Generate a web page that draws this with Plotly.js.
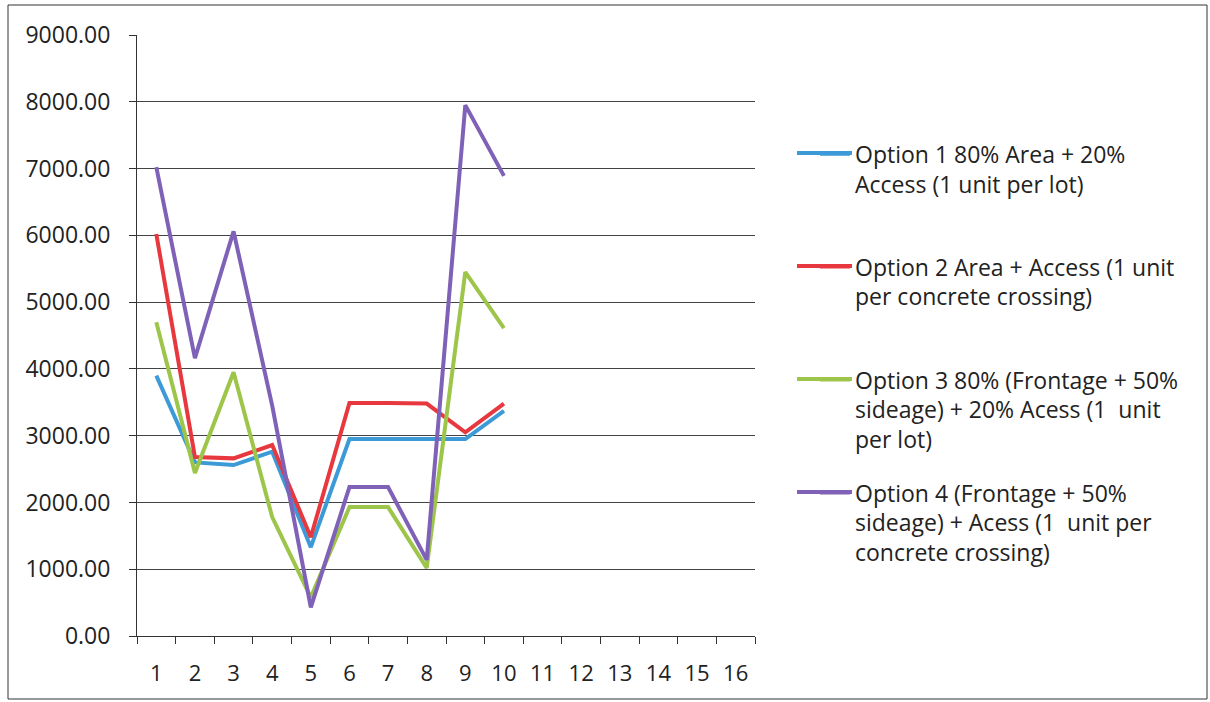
<!DOCTYPE html>
<html>
<head>
<meta charset="utf-8">
<script src="https://cdn.plot.ly/plotly-3.0.1.min.js"></script>
<style>html,body{margin:0;padding:0;background:#fff;}#chart{width:1210px;height:702px;}</style>
</head>
<body>
<div id="chart"></div>
<script>
const categories = ["1","2","3","4","5","6","7","8","9","10","11","12","13","14","15","16"];
const dataX = ["1","2","3","4","5","6","7","8","9","10"];
const option1 = [3900, 2600, 2560, 2760, 1330, 2950, 2950, 2950, 2950, 3370];
const option2 = [6020, 2680, 2660, 2860, 1480, 3490, 3490, 3480, 3050, 3480];
const option3 = [4700, 2440, 3950, 1780, 580, 1930, 1930, 1020, 5450, 4610];
const option4 = [7020, 4160, 6060, 3450, 430, 2230, 2230, 1140, 7950, 6890];
const seriesNames = [
  "Option 1 80% Area + 20%<br>Access (1 unit per lot)",
  "Option 2 Area + Access (1 unit<br>per concrete crossing)",
  "Option 3 80% (Frontage + 50%<br>sideage) + 20% Acess (1  unit<br>per lot)",
  "Option 4 (Frontage + 50%<br>sideage) + Acess (1  unit per<br>concrete crossing)"
];
const colors = ["#3d9ad8", "#e8383f", "#9dc54a", "#7f62b8"];
const allSeries = [option1, option2, option3, option4];
const legendIds = ["legend", "legend2", "legend3", "legend4"];

const traces = allSeries.map((ys, i) => ({
  type: "scatter", mode: "lines", x: dataX, y: ys, name: seriesNames[i],
  line: {color: colors[i], width: 4}, legend: legendIds[i], showlegend: true
}));

const font = {family: "Open Sans, Lato, sans-serif", size: 23, color: "#222"};
const legendY = [0.8383, 0.6503, 0.4623, 0.2743];
const swatchY = [0.8036, 0.6156, 0.4276, 0.2396];
const shapes = [{
  type: "rect", xref: "paper", yref: "paper",
  x0: (8 - 137) / 618, x1: (1207 - 137) / 618,
  y0: (636 - 699) / 601, y1: (636 - 5) / 601,
  line: {color: "#333", width: 1}, fillcolor: "rgba(0,0,0,0)"
}];
swatchY.forEach((y, i) => shapes.push({
  type: "line", xref: "paper", yref: "paper",
  x0: (797 - 137) / 618, x1: (852 - 137) / 618, y0: y, y1: y,
  line: {color: colors[i], width: 4}
}));
const layout = {
  width: 1210, height: 702,
  margin: {l: 137, r: 455, t: 35, b: 66},
  paper_bgcolor: "#fff", plot_bgcolor: "#fff",
  font: font,
  showlegend: true,
  xaxis: {
    type: "category", categoryorder: "array", categoryarray: categories,
    range: [-0.5, 15.5], showgrid: false, showline: true, linecolor: "#333", linewidth: 1,
    ticks: "outside", tickson: "boundaries", ticklen: 7, tickcolor: "#333",
    tickfont: Object.assign({}, font, {size: 22}), zeroline: false, ticklabelstandoff: 18
  },
  yaxis: {
    range: [0, 9000], dtick: 1000, tickformat: ".2f",
    showgrid: true, gridcolor: "#444", gridwidth: 1,
    showline: true, linecolor: "#333", linewidth: 1,
    ticks: "outside", ticklen: 7, tickcolor: "#333", tickfont: font,
    zeroline: false, ticklabelstandoff: 14
  },
  shapes: shapes
};
legendIds.forEach((id, i) => {
  layout[id] = {
    x: (815 - 137) / 618, y: legendY[i], xanchor: "left", yanchor: "top",
    valign: "top", font: font, bgcolor: "rgba(0,0,0,0)", itemwidth: 30
  };
});
Plotly.newPlot("chart", traces, layout, {displayModeBar: false});
</script>
</body>
</html>
